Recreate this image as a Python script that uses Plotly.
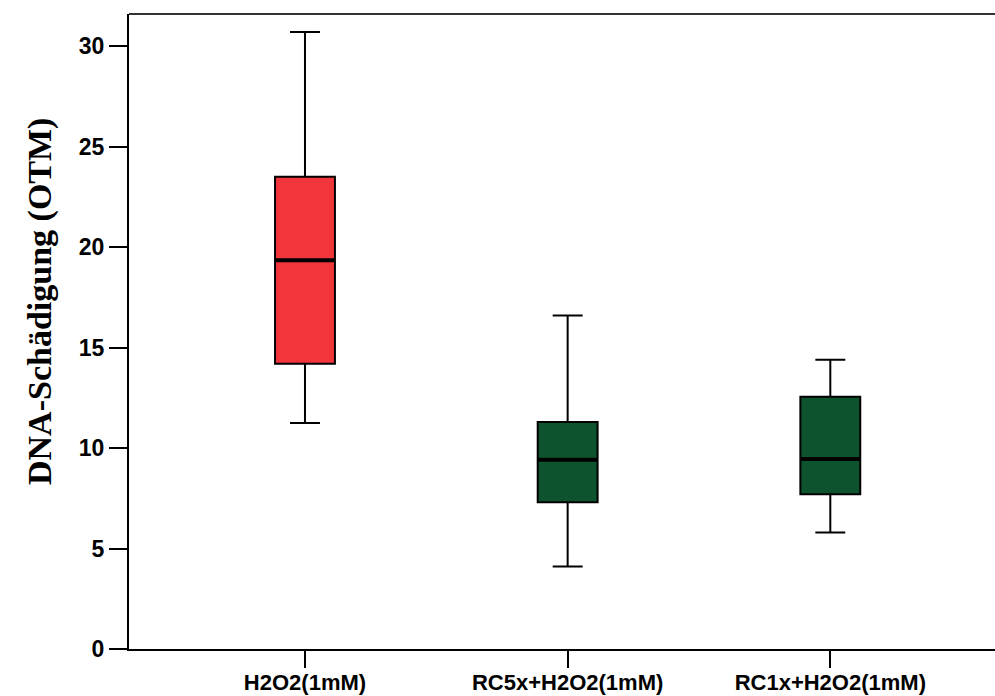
import plotly.graph_objects as go

categories = ["H2O2(1mM)", "RC5x+H2O2(1mM)", "RC1x+H2O2(1mM)"]
lower_whisker = [11.25, 4.1, 5.8]
q1_values = [14.2, 7.3, 7.7]
median_values = [19.35, 9.42, 9.45]
q3_values = [23.5, 11.3, 12.55]
upper_whisker = [30.7, 16.6, 14.4]
box_colors = ["#F0353B", "#0C532E"]
fill_per_box = [box_colors[0], box_colors[1], box_colors[1]]
y_ticks = [0, 5, 10, 15, 20, 25, 30]

positions = list(range(len(categories)))
box_w = 0.228

fig = go.Figure()
for i, cat in enumerate(categories):
    fig.add_trace(go.Box(
        x=[positions[i]],
        q1=[q1_values[i]], median=[median_values[i]], q3=[q3_values[i]],
        lowerfence=[lower_whisker[i]], upperfence=[upper_whisker[i]],
        fillcolor=fill_per_box[i],
        line=dict(color="black", width=2),
        width=box_w, whiskerwidth=0.5,
        boxpoints=False, showlegend=False, hoverinfo="skip",
    ))
    fig.add_trace(go.Scatter(
        x=[positions[i] - box_w / 2, positions[i] + box_w / 2],
        y=[median_values[i], median_values[i]],
        mode="lines", line=dict(color="black", width=4),
        showlegend=False, hoverinfo="skip",
    ))

x_font = dict(family="Liberation Sans, Arial", size=22, color="black", weight="bold")
y_font = dict(family="Liberation Sans, Arial", size=23, color="black", weight="bold")

fig.update_layout(
    width=995, height=696,
    margin=dict(l=129, r=0, t=14, b=47),
    plot_bgcolor="white", paper_bgcolor="white",
    xaxis=dict(
        range=[-0.67, 2.627], tickmode="array", tickvals=positions, ticktext=categories,
        showline=True, linecolor="black", linewidth=2,
        ticks="outside", ticklen=17, tickwidth=2, tickcolor="black",
        ticklabelstandoff=-4,
        showgrid=False, zeroline=False, tickfont=x_font, automargin=False,
    ),
    yaxis=dict(
        range=[0, 31.6], tickmode="array", tickvals=y_ticks,
        showline=True, linecolor="black", linewidth=2,
        ticks="outside", ticklen=18, tickwidth=2, tickcolor="black",
        showgrid=False, zeroline=False, tickfont=y_font, automargin=False,
    ),
    shapes=[dict(type="line", xref="paper", yref="paper", x0=0, x1=1, y0=1, y1=1,
                 line=dict(color="#333333", width=2))],
    annotations=[dict(
        text="<b>DNA-Schädigung (OTM)</b>", textangle=-90,
        xref="paper", yref="paper", x=(40 - 129) / 866, y=(649 - 302) / 635,
        xanchor="center", yanchor="middle", showarrow=False,
        font=dict(family="Liberation Serif, Times New Roman", size=34, color="black"),
    )],
)

fig.write_html("out.html")
